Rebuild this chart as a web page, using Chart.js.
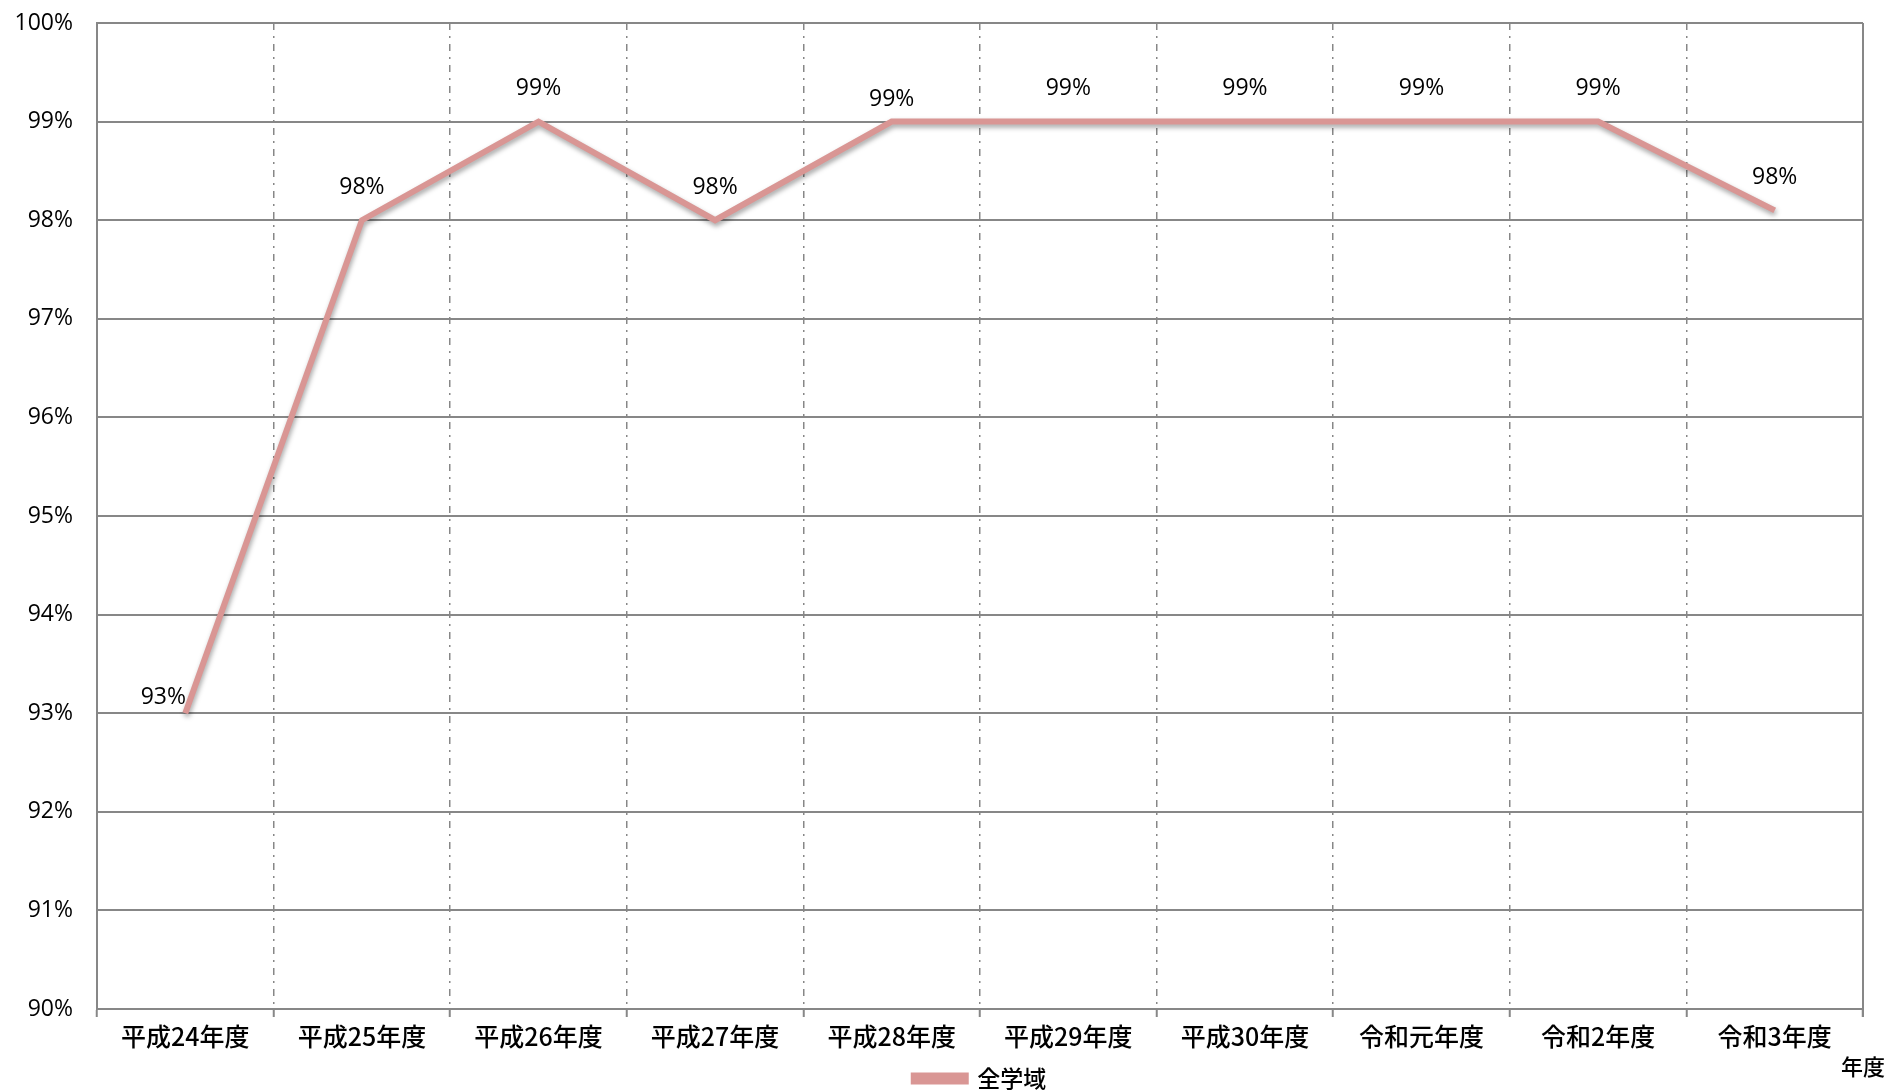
<!DOCTYPE html>
<html>
<head>
<meta charset="utf-8">
<script src="https://cdn.jsdelivr.net/npm/chart.js@4"></script>
<style>
  html,body{margin:0;padding:0;background:#fff;}
  #wrap{width:1890px;height:1092px;}
</style>
</head>
<body>
<div id="wrap"><canvas id="myCanvas"></canvas></div>
<script>
// data
var years=['平成24年度','平成25年度','平成26年度','平成27年度','平成28年度','平成29年度','平成30年度','令和元年度','令和2年度','令和3年度'];
var rates=[93,98,99,98,99,99,99,99,99,98.1];
var rateLabels=['93%','98%','99%','98%','99%','99%','99%','99%','99%','98%'];
var seriesName='全学域';
var xTitle='年度';

var lineColor='#d99694';
var gridColor='#878787';
var jpFont='"Noto Sans CJK JP", "Noto Sans", sans-serif';

// label nudges (px) so labels sit where the original put them
var labelDx={0:-22};
var labelDy={0:-16,4:-22};

var shadowPlugin={
  id:'lineShadow',
  beforeDatasetDraw:function(chart){
    var c=chart.ctx;
    c.save();
    c.shadowColor='rgba(0,0,0,0.35)';
    c.shadowBlur=5;
    c.shadowOffsetX=1;
    c.shadowOffsetY=3;
  },
  afterDatasetDraw:function(chart){
    chart.ctx.restore();
  }
};

var labelPlugin={
  id:'pointLabels',
  afterDatasetsDraw:function(chart){
    var c=chart.ctx;
    var meta=chart.getDatasetMeta(0);
    c.save();
    c.font='23px "Open Sans", sans-serif';
    c.fillStyle='#000';
    c.textAlign='center';
    c.textBaseline='middle';
    meta.data.forEach(function(pt,i){
      var dx=labelDx[i]||0;
      var dy=labelDy[i]!==undefined?labelDy[i]:-33;
      c.fillText(rateLabels[i],pt.x+dx,pt.y+dy);
    });
    c.restore();
  }
};

// right frame line and the unit title sitting under the right end of the axis
var framePlugin={
  id:'frameBits',
  afterDraw:function(chart){
    var a=chart.chartArea,c=chart.ctx,xs=chart.scales.x;
    c.save();
    c.strokeStyle=gridColor;
    c.lineWidth=2;
    c.beginPath();
    c.moveTo(a.right,a.top);
    c.lineTo(a.right,a.bottom+8);
    c.stroke();
    c.font='500 22px '+jpFont;
    c.fillStyle='#000';
    c.textAlign='center';
    c.textBaseline='middle';
    c.fillText(xTitle,xs.right,xs.bottom);
    c.restore();
  }
};

var data={
  labels:years,
  datasets:[{
    label:seriesName,
    data:rates,
    borderColor:lineColor,
    backgroundColor:lineColor,
    borderWidth:6,
    pointRadius:0,
    tension:0,
    fill:false
  }]
};

var ctx=document.getElementById('myCanvas');
var myLineChart=new Chart(ctx,{
  type:'line',
  data:data,
  plugins:[shadowPlugin,labelPlugin,framePlugin],
  options:{
    responsive:true,
    maintainAspectRatio:false,
    animation:false,
    layout:{padding:{top:23,right:27,left:0,bottom:-8}},
    plugins:{
      legend:{
        position:'bottom',
        fullSize:false,
        labels:{
          font:{family:jpFont,size:23,weight:'500'},
          color:'#000',
          boxWidth:52,
          boxHeight:6,
          padding:0
        }
      },
      tooltip:{enabled:false}
    },
    scales:{
      x:{
        offset:true,
        grid:{
          offset:true,
          color:gridColor,
          lineWidth:1.5,
          tickLength:8,
          tickColor:gridColor,
          tickWidth:2
        },
        border:{
          color:gridColor,
          width:2,
          dash:function(c){
            if(c.type==='scale')return [];
            if(c.index===0||c.index===years.length)return [];
            return [7,6,2,6];
          }
        },
        ticks:{
          font:{family:jpFont,size:25,weight:'500'},
          color:'#000',
          padding:4,
          maxRotation:0
        },
        afterFit:function(s){s.height=58;}
      },
      y:{
        min:90,
        max:100,
        grid:{color:gridColor,lineWidth:2,drawTicks:false},
        border:{color:gridColor,width:2},
        ticks:{
          stepSize:1,
          font:{family:'"Open Sans", sans-serif',size:23},
          color:'#000',
          padding:24,
          callback:function(v){return v+'%';}
        },
        afterFit:function(s){s.width=97;s.paddingTop=0;s.paddingBottom=0;}
      }
    }
  }
});
</script>
</body>
</html>
